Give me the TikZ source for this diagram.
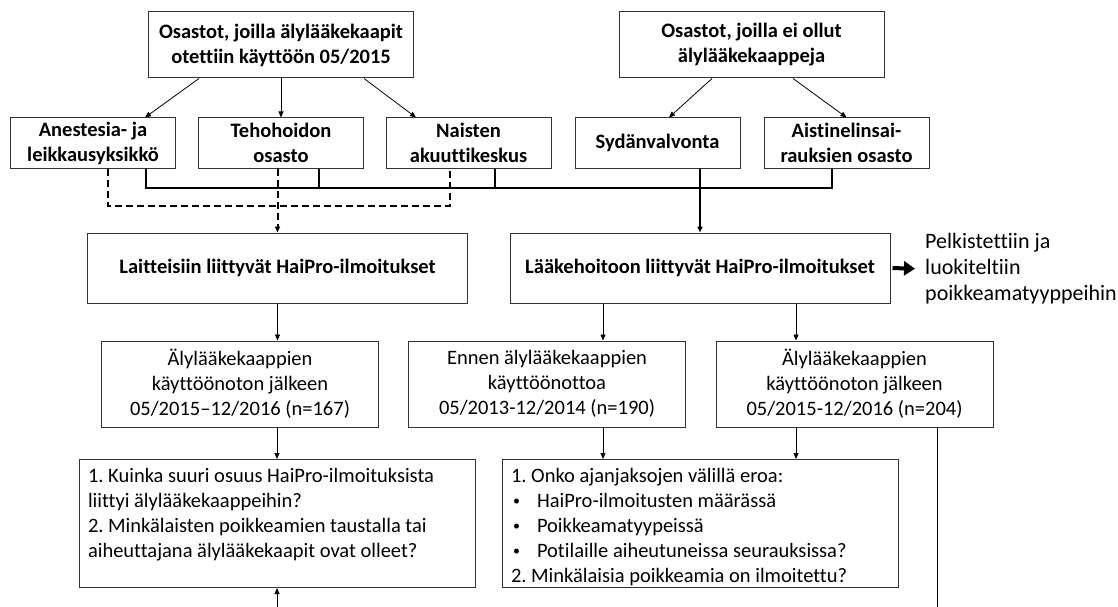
\documentclass[tikz,border=0pt]{standalone}
\usepackage{fontspec}
\setmainfont{Carlito}[Ligatures=NoCommon]
\usetikzlibrary{arrows.meta}
\frenchspacing

\begin{document}
\begin{tikzpicture}[x=1pt, y=-1pt,
    every node/.style={font=\fontsize{20.5}{25}\selectfont},
    hbox/.style={draw=black!80, line width=1pt, inner sep=0pt, align=center, font=\fontsize{20.5}{25}\selectfont\bfseries},
    pbox/.style={draw=black!80, line width=1pt, inner sep=0pt, align=center, minimum width=277pt, minimum height=86pt},
    qbox/.style={draw=black!80, line width=1pt, inner sep=9pt, anchor=north},
    arr/.style={-{Triangle[length=6pt,width=5pt]}, line width=0.8pt},
    bus/.style={line width=2pt},
    dbus/.style={line width=2pt, dash pattern=on 7pt off 4pt},
    bigarr/.style={-{Triangle[length=11pt,width=14pt]}, line width=4pt}]
  \newcommand\bul{\makebox[26pt][l]{\hspace{2pt}\raisebox{2pt}{\fontsize{14}{14}\selectfont •}}}
  \useasboundingbox (0,0) rectangle (1118,607);

  \node[hbox, minimum width=265pt, minimum height=66pt] (tl) at (281,45) {Osastot, joilla älylääkekaapit\\otettiin käyttöön 05/2015};
  \node[hbox, minimum width=265pt, minimum height=66pt] (tr) at (751.5,45) {Osastot, joilla ei ollut\\älylääkekaappeja};

  \node[hbox, minimum width=165pt, minimum height=50pt] (an) at (93,143) {Anestesia- ja\\leikkausyksikkö};
  \node[hbox, minimum width=165pt, minimum height=50pt] (te) at (281,143) {Tehohoidon\\osasto};
  \node[hbox, minimum width=165pt, minimum height=50pt] (na) at (468.5,143) {Naisten\\akuuttikeskus};
  \node[hbox, minimum width=165pt, minimum height=50pt] (sy) at (657.5,143) {Sydänvalvonta};
  \node[hbox, minimum width=165pt, minimum height=50pt] (ai) at (846.5,143) {Aistinelinsai-\\rauksien osasto};

  \node[hbox, minimum width=380pt, minimum height=70pt] (la) at (277.5,268) {Laitteisiin liittyvät HaiPro-ilmoitukset};
  \node[hbox, minimum width=380pt, minimum height=70pt] (lk) at (700,268) {Lääkehoitoon liittyvät HaiPro-ilmoitukset};
  \node[anchor=west, align=left, inner sep=0pt, font=\fontsize{22}{26}\selectfont] (tx) at (925,269) {Pelkistettiin ja\\luokiteltiin\\poikkeamatyyppeihin};

  \node[pbox] (b1) at (240,384) {Älylääkekaappien\\käyttöönoton jälkeen\\05/2015–12/2016 (n=167)};
  \node[pbox] (b2) at (547,384) {Ennen älylääkekaappien\\käyttöönottoa\\05/2013-12/2014 (n=190)};
  \node[pbox] (b3) at (854.5,384) {Älylääkekaappien\\käyttöönoton jälkeen\\05/2015-12/2016 (n=204)};

  \node[qbox] (q1) at (277,459) {\begin{minipage}[t][110pt][t]{378pt}\raggedright
    1. Kuinka suuri osuus HaiPro-ilmoituksista\\
    liittyi älylääkekaappeihin?\\
    2. Minkälaisten poikkeamien taustalla tai\\
    aiheuttajana älylääkekaapit ovat olleet?\end{minipage}};
  \node[qbox] (q2) at (700,459) {\begin{minipage}[t][110pt][t]{378pt}\raggedright
    1. Onko ajanjaksojen välillä eroa:\\
    \bul HaiPro-ilmoitusten määrässä\\
    \bul Poikkeamatyypeissä\\
    \bul Potilaille aiheutuneissa seurauksissa?\\
    2. Minkälaisia poikkeamia on ilmoitettu?\end{minipage}};

  \coordinate (q1in) at (277,607);
  \coordinate (b3out) at (937,607);

  \draw[arr] ([xshift=-82pt]tl.south) -- ([xshift=52pt]an.north);
  \draw[arr] (tl.south) -- (te.north);
  \draw[arr] ([xshift=83pt]tl.south) -- ([xshift=-52.5pt]na.north);
  \draw[arr] ([xshift=-39.5pt]tr.south) -- ([xshift=11.5pt]sy.north);
  \draw[arr] ([xshift=41.5pt]tr.south) -- (ai.north);

  \draw[bus] ([xshift=-30pt]an.south east) -- ++(0,19) -| ([xshift=-14.5pt]ai.south);
  \draw[bus] ([xshift=38pt]te.south) -- ++(0,19);
  \draw[bus] ([xshift=26.5pt]na.south) -- ++(0,19);
  \draw[arr, bus] (sy.south -| lk.north) -- (lk.north);

  \draw[dbus] ([xshift=15pt]an.south) -- ++(0,37) -| ([xshift=-18.5pt]na.south);
  \draw[arr, dbus] (te.south -| la.north) -- (la.north);

  \draw[bigarr, shorten <=2pt, shorten >=10pt] (lk.east) -- (tx.west);

  \draw[arr] (la.south) -- (la.south |- b1.north);
  \draw[arr] ([xshift=-97pt]lk.south) -- ([xshift=-97pt]lk.south |- b2.north);
  \draw[arr] ([xshift=96pt]lk.south) -- ([xshift=96pt]lk.south |- b3.north);

  \draw[arr] (q1.north |- b1.south) -- (q1.north);
  \draw[arr] ([xshift=-97pt]q2.north |- b2.south) -- ([xshift=-97pt]q2.north);
  \draw[arr] ([xshift=96pt]q2.north |- b3.south) -- ([xshift=96pt]q2.north);
  \draw[arr] (q1in) -- (q1.south);
  \draw[line width=0.8pt] (b3.south -| b3out) -- (b3out);
\end{tikzpicture}
\end{document}
